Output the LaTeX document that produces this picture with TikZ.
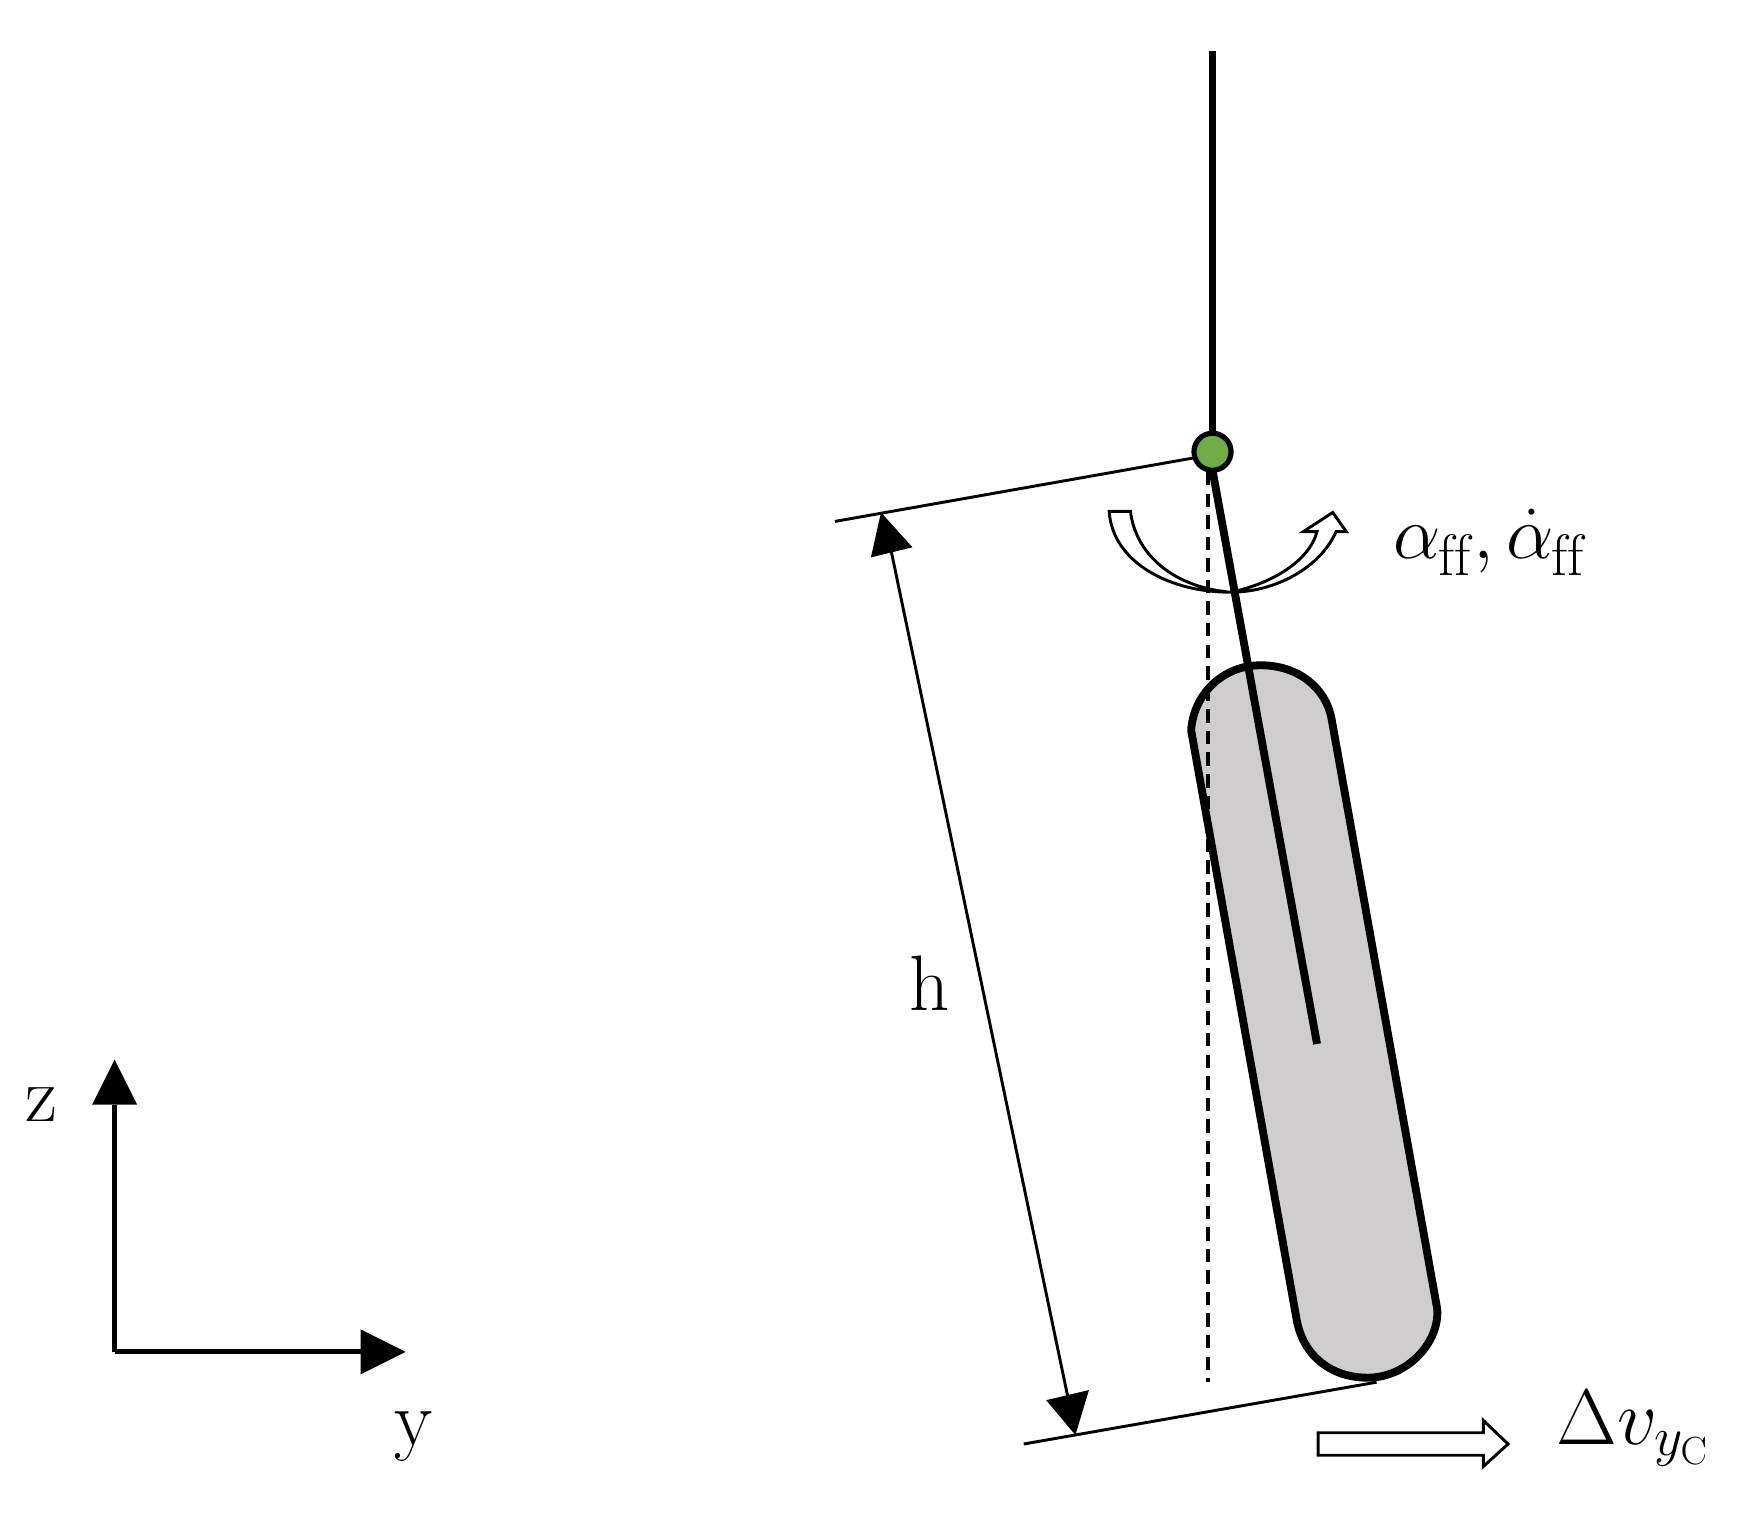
\documentclass[tikz,border=0pt]{standalone}
\usepackage{fix-cm}
\newcommand{\subff}{\raisebox{-7.5pt}{\fontsize{26}{30}\selectfont f\kern0pt f}}
\tikzset{
  every node/.style={inner sep=0pt,outer sep=0pt,font=\fontsize{35}{40}\selectfont},
  heavy/.style={draw=black,line width=3.5pt},
  thinline/.style={draw=black,line width=1.3pt},
  axisline/.style={draw=black,line width=2.2pt},
  tip/.style={fill=black,draw=none},
  hollow/.style={draw=black,fill=white,line width=1.3pt,line join=miter},
  tyre/.style={draw=black,fill=tyregray,line width=3.5pt,line join=round},
  pivotdot/.style={circle,draw=black,fill=pivotgreen,line width=2.3pt,minimum size=16.5pt},
  dashline/.style={draw=black,line width=1.6pt,dash pattern=on 6pt off 3.6pt}
}
\definecolor{tyregray}{HTML}{CFCDCE}
\definecolor{pivotgreen}{HTML}{70AD47}
\begin{document}
\begin{tikzpicture}[x=0.5pt,y=-0.5pt]
\useasboundingbox (0,0) rectangle (1568,1357);
% named points
\coordinate (top) at (1079,45);
\coordinate (rodend) at (1172,929);
\coordinate (dashtop) at (1075,420);
\coordinate (dashbot) at (1075,1230);
\coordinate (refA) at (743,464);
\coordinate (refB) at (1065,407);
\coordinate (refC) at (911,1285);
\coordinate (refD) at (1225,1230);
\coordinate (dimA) at (793,490);
\coordinate (dimB) at (950,1242);
\coordinate (origin) at (102,1203);
\coordinate (zend) at (102,983);
\coordinate (yend) at (322,1203);
% tyre
\path[tyre] (1060,650)
  .. controls (1062,618) and (1088,592) .. (1122,592)
  .. controls (1155,592) and (1180,612) .. (1185,640)
  -- (1279,1165)
  .. controls (1281,1195) and (1252,1226) .. (1217,1226)
  .. controls (1185,1226) and (1160,1207) .. (1154,1175)
  -- cycle;
% dashed vertical
\draw[dashline] (dashtop) -- (dashbot);
% curved arrow
\path[hollow] (987,455) -- (1006,455)
  .. controls (1010,490) and (1040,522) .. (1095,527)
  .. controls (1130,520) and (1165,500) .. (1172,473)
  -- (1160,473) -- (1186,456) -- (1198,473) -- (1189,473)
  .. controls (1175,505) and (1135,527) .. (1095,527)
  .. controls (1040,527) and (990,500) .. cycle;
% pivot and rods
\node[pivotdot] (pivot) at (1079,402) {};
\draw[heavy] (top) -- (pivot.north);
\draw[heavy] (pivot.south) -- (rodend);
% reference lines
\draw[thinline] (refA) -- (refB);
\draw[thinline] (refC) -- (refD);
% dimension
\draw[thinline] (dimA) -- (dimB);
\fill[tip] (784,456) -- (812,487) -- (775,496) -- cycle;
\fill[tip] (957,1277) -- (931,1246) -- (969,1237) -- cycle;
% axes
\draw[axisline] (origin) -- (zend);
\draw[axisline] (origin) -- (yend);
\fill[tip] (102,943) -- (122,983) -- (82,983) -- cycle;
\fill[tip] (361,1203) -- (321,1183) -- (321,1223) -- cycle;
% hollow arrow
\path[hollow] (1173,1275) -- (1320,1275) -- (1320,1264) -- (1342,1285) -- (1320,1305) -- (1320,1295) -- (1173,1295) -- cycle;
% labels
\node[anchor=base] (lz) at (37,998) {z};
\node[anchor=base] (ly) at (368,1286) {y};
\node[anchor=base] (lh) at (827,899) {h};
\node[anchor=base west,font=\fontsize{33.5}{40}\selectfont] (lalpha) at (1240,497) {$\alpha$\kern-1pt\subff\kern1pt$,\dot{\alpha}$\kern-1pt\subff};
\node[anchor=base west] (ldv) at (1385,1285) {$\Delta v_{y_{\mathrm{C}}}$};
\end{tikzpicture}
\end{document}
